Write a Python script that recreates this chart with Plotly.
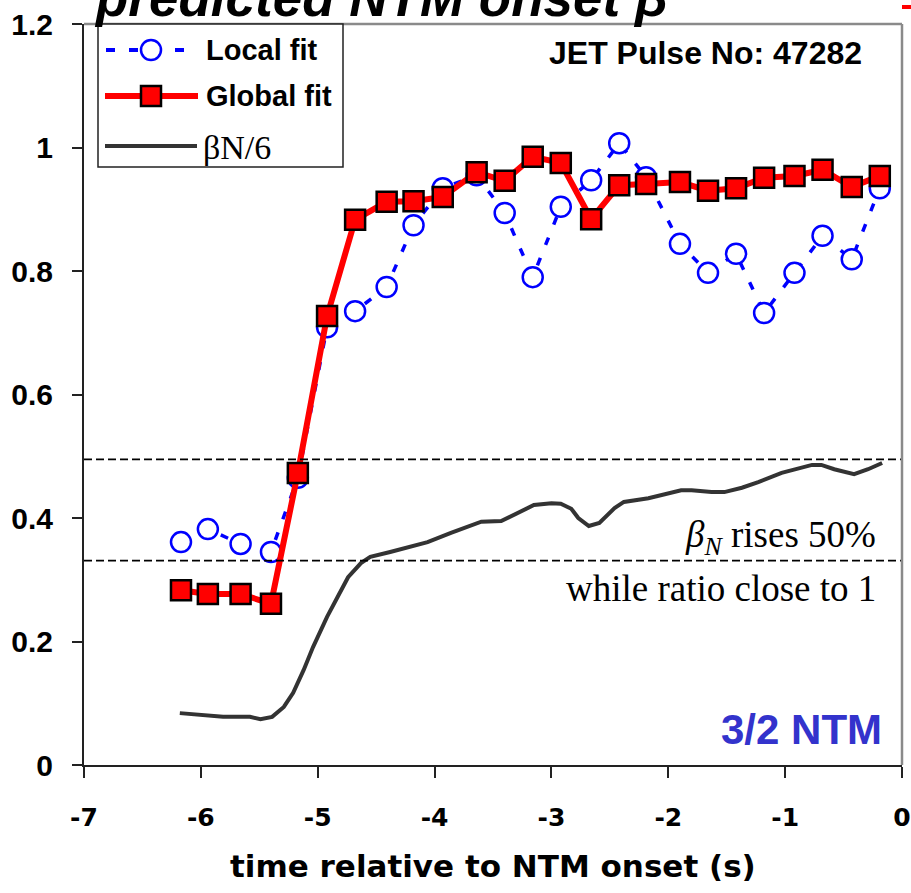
import plotly.graph_objects as go

# ---------------- data ----------------
t_fit = [-6.17, -5.94, -5.66, -5.40, -5.17, -4.92, -4.68, -4.41, -4.18, -3.93,
         -3.64, -3.40, -3.16, -2.92, -2.66, -2.42, -2.19, -1.90, -1.66, -1.42,
         -1.18, -0.92, -0.68, -0.43, -0.19]
local_fit = [0.361, 0.382, 0.358, 0.345, 0.465, 0.709, 0.735, 0.774, 0.874, 0.934,
             0.955, 0.894, 0.790, 0.904, 0.947, 1.007, 0.952, 0.844, 0.797, 0.828,
             0.732, 0.797, 0.857, 0.819, 0.934]
global_fit = [0.283, 0.277, 0.277, 0.261, 0.473, 0.727, 0.883, 0.912, 0.913, 0.920,
              0.960, 0.946, 0.985, 0.975, 0.884, 0.939, 0.941, 0.944, 0.930, 0.934,
              0.951, 0.954, 0.964, 0.936, 0.954]

t_beta = [-6.18, -5.81, -5.58, -5.49, -5.39, -5.29, -5.21, -5.12, -5.04, -4.92,
          -4.83, -4.74, -4.63, -4.55, -4.38, -4.06, -3.86, -3.60, -3.43, -3.32,
          -3.15, -3.00, -2.92, -2.83, -2.77, -2.68, -2.59, -2.46, -2.38, -2.17,
          -1.89, -1.80, -1.63, -1.52, -1.37, -1.23, -1.03, -0.77, -0.69, -0.58,
          -0.41, -0.29, -0.17]
beta_n6 = [0.084, 0.078, 0.078, 0.074, 0.078, 0.094, 0.117, 0.154, 0.191, 0.240,
           0.272, 0.304, 0.327, 0.337, 0.345, 0.361, 0.376, 0.394, 0.395, 0.405,
           0.421, 0.424, 0.423, 0.415, 0.400, 0.387, 0.392, 0.416, 0.426, 0.432,
           0.445, 0.445, 0.442, 0.442, 0.449, 0.458, 0.473, 0.486, 0.486, 0.479,
           0.471, 0.479, 0.489]

ref_levels = [0.495, 0.331]
x_ticks = [-7, -6, -5, -4, -3, -2, -1, 0]
y_ticks = [0, 0.2, 0.4, 0.6, 0.8, 1, 1.2]
y_ticklabels = ["0", "0.2", "0.4", "0.6", "0.8", "1", "1.2"]

# ---------------- layout geometry ----------------
W, H = 911, 893
L, R, T, B = 84, 9, 24, 128
PW, PH = W - L - R, H - T - B

def px(x):
    return (x - L) / PW

def py(y):
    return (H - B - y) / PH

fig = go.Figure()

fig.add_trace(go.Scatter(x=t_beta, y=beta_n6, mode="lines", name="βN/6",
                         line=dict(color="#333333", width=4), showlegend=False))
fig.add_trace(go.Scatter(x=t_fit, y=local_fit, mode="lines+markers", name="Local fit",
                         line=dict(color="#0000ff", width=3.5, dash="8px,14px"),
                         marker=dict(symbol="circle", size=20, color="white",
                                     line=dict(color="#0000ff", width=2.5)),
                         showlegend=False))
fig.add_trace(go.Scatter(x=t_fit, y=global_fit, mode="lines+markers", name="Global fit",
                         line=dict(color="#ff0000", width=6),
                         marker=dict(symbol="square", size=20, color="#ff0000",
                                     line=dict(color="black", width=2.5)),
                         showlegend=False))

shapes = []
for lv in ref_levels:
    shapes.append(dict(type="line", xref="paper", yref="y", x0=0, x1=1, y0=lv, y1=lv,
                       line=dict(color="black", width=1.8, dash="8px,4px")))
# gray top/right frame
shapes.append(dict(type="line", xref="paper", yref="paper", x0=0, x1=1, y0=1, y1=1,
                   line=dict(color="#8a8a8a", width=2.5)))
shapes.append(dict(type="line", xref="paper", yref="paper", x0=1, x1=1, y0=0, y1=1,
                   line=dict(color="#8a8a8a", width=2.5)))
# small red mark at top right corner (cut-off decoration)
shapes.append(dict(type="line", xref="paper", yref="paper", x0=px(902), x1=px(911),
                   y0=py(7), y1=py(7), line=dict(color="#ff0000", width=4)))

# custom legend box
shapes.append(dict(type="rect", xref="paper", yref="paper", x0=px(98), x1=px(343),
                   y0=py(167), y1=py(24), fillcolor="white",
                   line=dict(color="#222222", width=1.5), layer="above"))
# Local fit sample
shapes.append(dict(type="line", xref="paper", yref="paper", x0=px(106), x1=px(198),
                   y0=py(50), y1=py(50),
                   line=dict(color="#0000ff", width=4, dash="9px,14px"), layer="above"))
shapes.append(dict(type="circle", xref="paper", yref="paper", x0=px(141), x1=px(161),
                   y0=py(60), y1=py(40), fillcolor="white",
                   line=dict(color="#0000ff", width=2.5), layer="above"))
# Global fit sample
shapes.append(dict(type="line", xref="paper", yref="paper", x0=px(105), x1=px(198),
                   y0=py(96), y1=py(96), line=dict(color="#ff0000", width=6), layer="above"))
shapes.append(dict(type="rect", xref="paper", yref="paper", x0=px(141), x1=px(161),
                   y0=py(106), y1=py(86), fillcolor="#ff0000",
                   line=dict(color="black", width=2.5), layer="above"))
# beta sample
shapes.append(dict(type="line", xref="paper", yref="paper", x0=px(105), x1=px(197),
                   y0=py(146), y1=py(146), line=dict(color="#333333", width=4), layer="above"))

sans = "Liberation Sans, Arial, sans-serif"
serif = "Liberation Serif, Times New Roman, serif"

annotations = [
    dict(text="Local fit", x=px(204), y=py(50), xanchor="left", yanchor="middle",
         font=dict(family=sans, size=29, color="black", weight="bold")),
    dict(text="Global fit", x=px(204), y=py(96), xanchor="left", yanchor="middle",
         font=dict(family=sans, size=29, color="black", weight="bold")),
    dict(text="βN/6", x=px(201), y=py(147), xanchor="left", yanchor="middle",
         font=dict(family=serif, size=34, color="black")),
    dict(text="JET Pulse No: 47282", x=px(864), y=py(53), xanchor="right", yanchor="middle",
         font=dict(family=sans, size=32, color="black", weight="bold")),
    dict(text="3/2 NTM", x=px(884), y=py(729), xanchor="right", yanchor="middle",
         font=dict(family=sans, size=42, color="#3333cc", weight="bold")),
    dict(text="<i>β<sub>N</sub></i> rises 50%", x=px(878), y=py(537), xanchor="right",
         yanchor="middle", font=dict(family=serif, size=37, color="black")),
    dict(text="while ratio close to 1", x=px(878), y=py(588), xanchor="right",
         yanchor="middle", font=dict(family=serif, size=37, color="black")),
    dict(text="time relative to NTM onset (s)", x=0.5, y=py(866), xanchor="center",
         yanchor="middle",
         font=dict(family="DejaVu Sans, sans-serif", size=31, color="black", weight="bold")),
    dict(text="<i>predicted NTM onset β</i>", x=px(92), y=py(29), xanchor="left",
         yanchor="bottom",
         font=dict(family=sans, size=53, color="black", weight="bold")),
]
for a in annotations:
    a.setdefault("xref", "paper")
    a.setdefault("yref", "paper")
    a["showarrow"] = False

fig.update_layout(
    width=W, height=H, autosize=False,
    margin=dict(l=L, r=R, t=T, b=B, pad=0, autoexpand=False),
    paper_bgcolor="white", plot_bgcolor="white",
    shapes=shapes, annotations=annotations,
    showlegend=False,
    xaxis=dict(range=[-7, 0], tickmode="array", tickvals=x_ticks,
               ticktext=[str(v) for v in x_ticks], automargin=False,
               showgrid=False, zeroline=False, showline=True, linecolor="#222222",
               linewidth=2, ticks="outside", ticklen=11, tickwidth=1.5, tickcolor="#222222",
               ticklabelstandoff=18,
               tickfont=dict(family="DejaVu Sans, sans-serif", size=25, color="black",
                             weight="bold")),
    yaxis=dict(range=[0, 1.2], tickmode="array", tickvals=y_ticks, ticktext=y_ticklabels,
               automargin=False,
               showgrid=False, zeroline=False, showline=True, linecolor="#222222",
               linewidth=2, ticks="outside", ticklen=10, tickwidth=1.5, tickcolor="#222222",
               ticklabelstandoff=13,
               tickfont=dict(family=sans, size=30, color="black", weight="bold")),
)

fig.write_html("out.html")
